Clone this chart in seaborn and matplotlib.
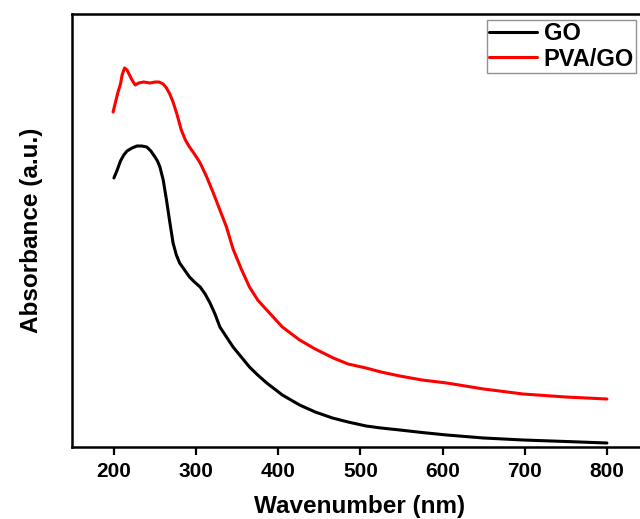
import matplotlib
matplotlib.use("Agg")
import matplotlib.pyplot as plt
import seaborn as sns
import pandas as pd

# GO absorbance (arbitrary units)
go_wl = [200, 204, 208, 212, 216, 222, 228, 234, 240, 245, 250, 253, 256, 260, 264, 268,
         272, 276, 280, 286, 292, 298, 305, 311, 317, 323, 329, 337, 345, 355, 365, 375,
         386, 405, 426, 445, 466, 485, 507, 525, 548, 575, 605, 650, 698, 750, 800]
go_abs = [2.69, 2.77, 2.86, 2.92, 2.96, 2.99, 3.01, 3.01, 3.00, 2.96, 2.90, 2.86, 2.80,
          2.67, 2.47, 2.25, 2.04, 1.92, 1.84, 1.77, 1.70, 1.65, 1.60, 1.53, 1.44, 1.33,
          1.20, 1.10, 1.00, 0.90, 0.80, 0.72, 0.64, 0.52, 0.42, 0.35, 0.29, 0.25, 0.21,
          0.19, 0.17, 0.145, 0.12, 0.09, 0.07, 0.055, 0.04]

# PVA/GO absorbance (arbitrary units)
pva_wl = [199, 202, 205, 208, 210, 213, 216, 219, 222, 226, 230, 236, 244, 250, 255, 260,
          264, 268, 272, 277, 282, 287, 292, 298, 305, 313, 321, 329, 337, 345, 355, 365,
          375, 386, 405, 426, 445, 467, 485, 507, 525, 548, 575, 605, 650, 698, 750, 800]
pva_abs = [3.35, 3.45, 3.55, 3.63, 3.72, 3.79, 3.77, 3.72, 3.67, 3.62, 3.64, 3.65, 3.64,
           3.65, 3.65, 3.63, 3.59, 3.53, 3.45, 3.32, 3.17, 3.07, 3.00, 2.93, 2.84, 2.70,
           2.54, 2.37, 2.20, 1.98, 1.78, 1.60, 1.47, 1.37, 1.20, 1.07, 0.98, 0.89, 0.83,
           0.79, 0.75, 0.71, 0.67, 0.64, 0.58, 0.53, 0.50, 0.48]

labels = ["GO", "PVA/GO"]
xticks = [200, 300, 400, 500, 600, 700, 800]

df = pd.concat([
    pd.DataFrame({"wl": go_wl, "abs": go_abs, "sample": labels[0]}),
    pd.DataFrame({"wl": pva_wl, "abs": pva_abs, "sample": labels[1]}),
])

sns.set_style("white")
plt.rcParams["font.family"] = ["Liberation Sans", "DejaVu Sans"]
plt.rcParams["font.weight"] = "bold"
plt.rcParams["text.color"] = "black"
plt.rcParams["axes.labelcolor"] = "black"
plt.rcParams["xtick.color"] = "black"

fig = plt.figure(figsize=(6.4, 5.19), dpi=100)
ax = fig.add_axes([72/640, 72/519, 0.9, 433/519])

sns.lineplot(data=df, x="wl", y="abs", hue="sample",
             palette={"GO": "black", "PVA/GO": "red"}, linewidth=2.2, ax=ax,
             sort=False, estimator=None)

ax.set_xlim(149, 850)
ax.set_ylim(0, 4.33)
ax.set_xticks(xticks)
ax.set_xticklabels([str(t) for t in xticks], fontsize=15, fontweight="bold", color="black")
ax.set_yticks([])
ax.tick_params(axis="x", direction="out", length=6, width=1.6, bottom=True, pad=5)
for s in ax.spines.values():
    s.set_linewidth(1.8)
    s.set_color("black")

ax.set_xlabel("Wavenumber (nm)", fontsize=17.5, fontweight="bold", labelpad=10, color="black")
ax.set_ylabel("Absorbance (a.u.)", fontsize=17.5, fontweight="bold", labelpad=21, color="black")

leg = ax.legend(loc="upper left", bbox_to_anchor=(487/640, 1 - 20/519),
                bbox_transform=fig.transFigure, frameon=True, fancybox=False,
                prop={"size": 17, "weight": "bold"}, handlelength=2.0,
                handletextpad=0.3, labelspacing=0.1, borderpad=0.1,
                borderaxespad=0)
leg.get_frame().set_edgecolor("#777777")
leg.get_frame().set_linewidth(1.0)
for line in leg.get_lines():
    line.set_linewidth(2.2)
for t in leg.get_texts():
    t.set_color("black")

fig.savefig("out.png", dpi=100)
